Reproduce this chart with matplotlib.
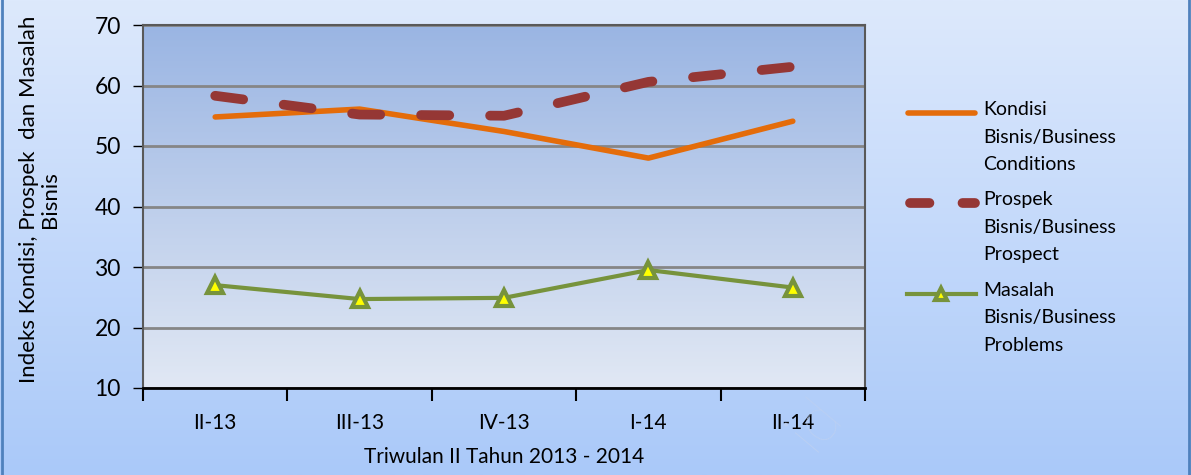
import numpy as np
import matplotlib.pyplot as plt
from matplotlib.colors import LinearSegmentedColormap
from matplotlib.lines import Line2D

plt.rcParams['font.family'] = ['Lato', 'DejaVu Sans']

quarters = ['II-13', 'III-13', 'IV-13', 'I-14', 'II-14']
kondisi = [54.8, 56.1, 52.4, 48.0, 54.1]
prospek = [58.3, 55.2, 55.0, 60.6, 63.1]
masalah = [27.0, 24.7, 24.9, 29.5, 26.6]

labels = ['Kondisi\nBisnis/Business\nConditions',
          'Prospek\nBisnis/Business\nProspect',
          'Masalah\nBisnis/Business\nProblems']

W, H = 1191, 475
fig = plt.figure(figsize=(W / 100, H / 100), dpi=100)

# figure background gradient
bg = fig.add_axes([0, 0, 1, 1], zorder=-10)
fig_cmap = LinearSegmentedColormap.from_list('fig', ['#dde9fc', '#aac9f9'])
bg.imshow(np.linspace(0, 1, 256).reshape(-1, 1), aspect='auto', cmap=fig_cmap,
          extent=[0, 1, 0, 1])
bg.axvline(0.002, color='#4f81bd', lw=2)
bg.axvline(0.998, color='#4f81bd', lw=2)
bg.set_xlim(0, 1)
bg.set_ylim(0, 1)
bg.set_axis_off()

ax = fig.add_axes([143 / W, 1 - 388 / H, (865 - 143) / W, (388 - 25) / H])
ax_cmap = LinearSegmentedColormap.from_list('ax', ['#9ab5e3', '#e1e8f4'])
ax.imshow(np.linspace(0, 1, 256).reshape(-1, 1), aspect='auto', cmap=ax_cmap,
          extent=[-0.5, 4.5, 10, 70], zorder=0)

styles = [
    dict(color='#e46c0a', lw=4, solid_capstyle='round'),
    dict(color='#953735', lw=7, dashes=(2.9, 4.2), dash_capstyle='round'),
    dict(color='#77933c', lw=3, marker='^', markersize=11,
         markerfacecolor='#ffff00', markeredgecolor='#77933c', markeredgewidth=3),
]

x = np.arange(len(quarters))
ax.plot(x, kondisi, zorder=3, **styles[0])
ax.plot(x, prospek, zorder=4, **styles[1])
ax.plot(x, masalah, zorder=3, **styles[2])

ax.set_xlim(-0.5, 4.5)
ax.set_ylim(10, 70)
ax.set_yticks(range(10, 71, 10))
ax.yaxis.grid(True, color='#868686', lw=2)
ax.set_axisbelow(True)
ax.set_xticks(x)
ax.set_xticklabels(quarters, fontsize=15)
ax.set_xticks(np.arange(-0.5, 4.6, 1), minor=True)
ax.tick_params(axis='x', which='major', length=0, pad=18)
ax.tick_params(axis='x', which='minor', length=9, width=1.5, direction='out')
ax.tick_params(axis='y', labelsize=16.5, length=7, width=1, direction='out', pad=9)

for s in ['top', 'left', 'right']:
    ax.spines[s].set_linestyle((0, (2, 1)))
    ax.spines[s].set_color('#595959')
    ax.spines[s].set_linewidth(1.5)
ax.spines['bottom'].set_color('black')
ax.spines['bottom'].set_linewidth(2)

ax.set_xlabel('Triwulan II Tahun 2013 - 2014', fontsize=15, labelpad=10)
ax.set_ylabel('Indeks Kondisi, Prospek  dan Masalah\nBisnis', fontsize=16,
              linespacing=1.05)
ax.yaxis.set_label_coords(-0.115, 0.52)

# legend drawn by hand: handle beside the first line of each label
leg_y = [113, 203, 294]
for lab, st, yy in zip(labels, styles, leg_y):
    yf = 1 - yy / H
    st = dict(st)
    if 'marker' in st:
        fig.add_artist(Line2D([907 / W, 976 / W], [yf, yf], transform=fig.transFigure,
                              color=st['color'], lw=st['lw']))
        fig.add_artist(Line2D([941 / W], [yf], transform=fig.transFigure, lw=0,
                              marker='^', markersize=9, markerfacecolor='#ffff00',
                              markeredgecolor=st['color'], markeredgewidth=3))
    elif 'dashes' in st:
        st['dashes'] = (2.0, 3.4)
        fig.add_artist(Line2D([910 / W, 975 / W], [yf, yf], transform=fig.transFigure, **st))
    else:
        fig.add_artist(Line2D([908 / W, 975 / W], [yf, yf], transform=fig.transFigure, **st))
    fig.text(983 / W, yf + 12 / H, lab, fontsize=14, va='top', ha='left',
             linespacing=1.75)

# faint watermark
fig.text(815 / W, 50 / H, 'id', fontsize=46, rotation=50, color='#bcd0f2',
         ha='center', va='center', fontweight='light')

fig.savefig('out.png', dpi=100)
